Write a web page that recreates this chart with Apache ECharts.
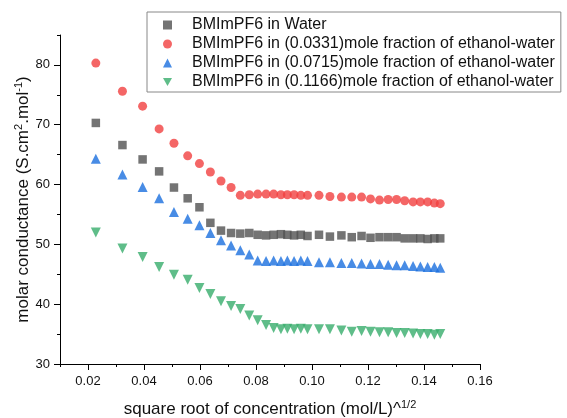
<!DOCTYPE html>
<html>
<head>
<meta charset="utf-8">
<script src="https://cdn.jsdelivr.net/npm/echarts@6/dist/echarts.min.js"></script>
<style>
  html, body { margin: 0; padding: 0; background: #fff; }
  #chart { width: 567px; height: 418px; }
</style>
</head>
<body>
<div id="chart"></div>
<script>
// Square root of concentration, (mol/L)^1/2
const sqrtConc = [0.0228, 0.0323, 0.0395, 0.0454, 0.0507, 0.0556, 0.0598, 0.0637, 0.0675, 0.0711,
  0.0744, 0.0776, 0.0806, 0.0836, 0.0863, 0.0889, 0.0912, 0.0936, 0.0960, 0.0984,
  0.1025, 0.1064, 0.1105, 0.1142, 0.1177, 0.1209, 0.1241, 0.1272, 0.1302, 0.1331,
  0.1361, 0.1387, 0.1413, 0.1437, 0.1458];

// Molar conductance, S.cm^2.mol^-1
const water = [70.3, 66.6, 64.2, 62.2, 59.5, 57.7, 56.2, 53.6, 52.3, 51.9,
  51.8, 51.9, 51.6, 51.5, 51.6, 51.7, 51.6, 51.5, 51.6, 51.4,
  51.6, 51.3, 51.5, 51.2, 51.4, 51.1, 51.2, 51.2, 51.2, 51.0,
  51.0, 51.0, 50.9, 51.0, 51.0];
const eth0331 = [80.3, 75.6, 73.1, 69.3, 66.9, 64.8, 63.5, 62.1, 60.6, 59.5,
  58.2, 58.3, 58.4, 58.4, 58.4, 58.3, 58.3, 58.3, 58.2, 58.2,
  58.2, 58.0, 57.9, 57.9, 57.9, 57.6, 57.4, 57.5, 57.5, 57.3,
  57.1, 57.1, 57.1, 56.9, 56.8];
const eth0715 = [64.3, 61.7, 59.6, 57.7, 55.4, 54.3, 53.2, 51.9, 50.7, 49.8,
  49.0, 48.3, 47.3, 47.2, 47.3, 47.2, 47.3, 47.2, 47.3, 47.2,
  47.0, 47.0, 46.9, 46.9, 46.8, 46.7, 46.7, 46.6, 46.5, 46.5,
  46.4, 46.3, 46.2, 46.2, 46.1];
const eth1166 = [52.0, 49.3, 47.9, 46.2, 44.9, 44.1, 42.7, 41.7, 40.5, 39.7,
  39.2, 38.1, 37.3, 36.5, 36.0, 35.8, 35.9, 35.8, 35.9, 35.8,
  35.8, 35.8, 35.6, 35.4, 35.5, 35.4, 35.3, 35.3, 35.2, 35.2,
  35.1, 35.0, 35.0, 34.9, 35.0];

const seriesNames = [
  'BMImPF6 in Water',
  'BMImPF6 in (0.0331)mole fraction of ethanol-water',
  'BMImPF6 in (0.0715)mole fraction of ethanol-water',
  'BMImPF6 in (0.1166)mole fraction of ethanol-water'
];

// Labelled (major) ticks
const xMajorTicks = [0.02, 0.04, 0.06, 0.08, 0.10, 0.12, 0.14, 0.16];
const yMajorTicks = [30, 40, 50, 60, 70, 80];

const FONT = '"Liberation Sans", Arial, sans-serif';
const pair = (ys) => sqrtConc.map((x, i) => [x, ys[i]]);

const chart = echarts.init(document.getElementById('chart'), null, { renderer: 'canvas' });

const axisLineStyle = { color: '#000', width: 1 };
const nameStyle = {
  fontFamily: FONT, fontSize: 17, color: '#111', lineHeight: 20,
  rich: { sup: { fontFamily: FONT, fontSize: 11, color: '#111', verticalAlign: 'top', lineHeight: 20 } }
};

chart.setOption({
  animation: false,
  backgroundColor: '#fff',
  grid: { left: 60, right: 87, top: 35, bottom: 54, containLabel: false, outerBoundsMode: 'none' },
  legend: {
    orient: 'vertical',
    left: 147,
    top: 12,
    padding: [5, 6, 2, 16],
    itemWidth: 9,
    itemHeight: 9,
    itemGap: 3,
    borderColor: '#888',
    borderWidth: 1,
    backgroundColor: '#fff',
    data: [
      { name: seriesNames[0], icon: 'rect' },
      { name: seriesNames[1], icon: 'circle' },
      { name: seriesNames[2], icon: 'triangle' },
      { name: seriesNames[3], icon: 'path://M0,0L10,0L5,9Z' }
    ],
    textStyle: {
      fontFamily: FONT, fontSize: 16, color: '#111', lineHeight: 16,
      padding: [0, 0, 0, 15]
    }
  },
  xAxis: [
    {
      type: 'value', min: 0.01, max: 0.16, interval: 0.01,
      position: 'bottom',
      name: 'square root of concentration (mol/L)^{sup|1/2}',
      nameLocation: 'middle', nameGap: 35, nameMoveOverlap: false,
      nameTextStyle: nameStyle,
      axisLine: { show: true, onZero: false, lineStyle: axisLineStyle },
      axisTick: { show: true, inside: false, length: 6, customValues: xMajorTicks, lineStyle: axisLineStyle },
      axisLabel: {
        customValues: xMajorTicks, margin: 11,
        fontFamily: FONT, fontSize: 13, color: '#111',
        formatter: (v) => v.toFixed(2)
      },
      splitLine: { show: false }
    },
    {
      type: 'value', min: 0.01, max: 0.16, interval: 0.01,
      position: 'bottom',
      axisLine: { show: false, onZero: false },
      axisTick: { show: true, inside: false, length: 3, lineStyle: axisLineStyle },
      axisLabel: { show: false },
      splitLine: { show: false }
    }
  ],
  yAxis: [
    {
      type: 'value', min: 30, max: 85, interval: 5,
      position: 'left',
      name: 'molar conductance (S.cm{sup|2}.mol{sup|-1})',
      nameLocation: 'middle', nameGap: 27, nameMoveOverlap: false,
      nameTextStyle: nameStyle,
      axisLine: { show: true, onZero: false, lineStyle: axisLineStyle },
      axisTick: { show: true, inside: false, length: 6, customValues: yMajorTicks, lineStyle: axisLineStyle },
      axisLabel: {
        customValues: yMajorTicks, margin: 10,
        fontFamily: FONT, fontSize: 13, color: '#111'
      },
      splitLine: { show: false }
    },
    {
      type: 'value', min: 30, max: 85, interval: 5,
      position: 'left',
      axisLine: { show: false, onZero: false },
      axisTick: { show: true, inside: false, length: 3, lineStyle: axisLineStyle },
      axisLabel: { show: false },
      splitLine: { show: false }
    }
  ],
  series: [
    {
      name: seriesNames[0], type: 'scatter', data: pair(water),
      symbol: 'rect', symbolSize: 8.5,
      itemStyle: { color: '#515151' }
    },
    {
      name: seriesNames[1], type: 'scatter', data: pair(eth0331),
      symbol: 'circle', symbolSize: 9,
      itemStyle: { color: '#F14040' }
    },
    {
      name: seriesNames[2], type: 'scatter', data: pair(eth0715),
      symbol: 'triangle', symbolSize: 10,
      itemStyle: { color: '#1A6FDF' }
    },
    {
      name: seriesNames[3], type: 'scatter', data: pair(eth1166),
      symbol: 'triangle', symbolRotate: 180, symbolSize: 10,
      itemStyle: { color: '#37AD6B' }
    }
  ]
});
</script>
</body>
</html>
